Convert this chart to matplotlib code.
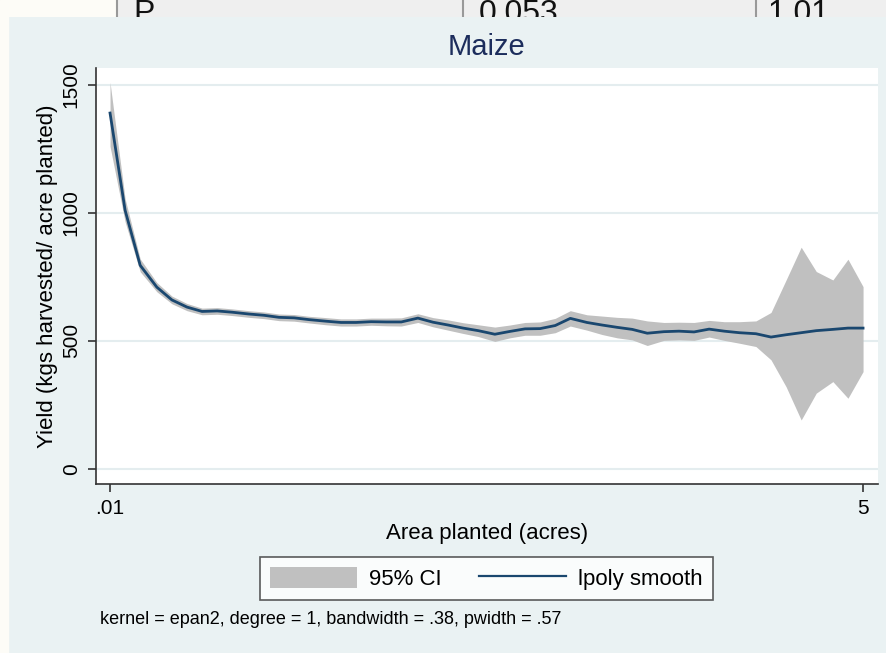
import matplotlib.pyplot as plt
from matplotlib.patches import Rectangle
from matplotlib.lines import Line2D
from matplotlib.patches import Patch

plt.rcParams['font.family'] = ['Liberation Sans', 'DejaVu Sans']

# lpoly grid (acres) and smoothed yield with 95% CI
area = [0.01, 0.11, 0.21, 0.32, 0.42, 0.52, 0.62, 0.72, 0.82, 0.93,
        1.03, 1.13, 1.23, 1.33, 1.44, 1.54, 1.64, 1.74, 1.84, 1.94,
        2.05, 2.15, 2.25, 2.35, 2.45, 2.56, 2.66, 2.76, 2.86, 2.96,
        3.06, 3.17, 3.27, 3.37, 3.47, 3.57, 3.68, 3.78, 3.88, 3.98,
        4.08, 4.18, 4.29, 4.39, 4.49, 4.59, 4.69, 4.80, 4.90, 5.00]
smooth = [1390, 1010, 795, 710, 660, 632, 615, 617, 612, 605,
          600, 592, 590, 583, 577, 572, 572, 575, 574, 574,
          589, 573, 562, 550, 540, 526, 537, 547, 548, 560,
          588, 572, 562, 553, 545, 530, 536, 538, 535, 546,
          538, 532, 528, 515, 524, 532, 540, 545, 550, 550]
ci_low = [1260, 965, 770, 692, 645, 618, 602, 604, 599, 592,
          587, 579, 577, 570, 563, 558, 558, 561, 559, 558,
          572, 555, 542, 529, 517, 498, 512, 522, 522, 532,
          558, 542, 525, 512, 504, 482, 502, 504, 502, 515,
          502, 491, 478, 426, 321, 191, 296, 341, 276, 380]
ci_high = [1510, 1055, 820, 728, 675, 646, 628, 630, 625, 618,
           613, 605, 603, 596, 591, 586, 586, 589, 589, 590,
           606, 591, 582, 571, 563, 554, 562, 572, 574, 588,
           618, 602, 597, 592, 589, 578, 572, 573, 572, 580,
           575, 575, 578, 611, 738, 866, 771, 738, 819, 712]

yticks = [0, 500, 1000, 1500]
xticks = [0.01, 5]
xticklabels = ['.01', '5']

W, H = 887, 653
bg = '#EAF2F3'
navy = '#1A476F'

fig = plt.figure(figsize=(W / 100, H / 100), dpi=100, facecolor=bg)

# bits of the screenshot around the graph
fig.patches.append(Rectangle((0, 0), 8 / W, 1, transform=fig.transFigure,
                             color='#FDFCF7', zorder=-1))
top = fig.add_axes([0, 1 - 17 / H, 1, 17 / H])
top.set_xlim(0, W)
top.set_ylim(17, 0)
top.axis('off')
top.add_patch(Rectangle((0, 0), 117, 17, color='#FDFCF7'))
top.add_patch(Rectangle((117, 0), W - 117, 17, color='#EFEFEF'))
for xv in [117, 463, 756]:
    top.plot([xv, xv], [0, 17], color='#999999', lw=1.5)
for xv, s in [(133, 'P'), (479, '0.053'), (768, '1.01')]:
    top.text(xv, -1, s, fontsize=23, va='top', ha='left', color='#111111',
             clip_on=True)

ax = fig.add_axes([96 / W, 1 - 484 / H, 782 / W, 416 / H])
ax.set_facecolor('white')
ax.fill_between(area, ci_low, ci_high, color='#C0C0C0', lw=0, zorder=2)
ax.plot(area, smooth, color=navy, lw=2, zorder=3)

ax.set_xlim(-0.083, 5.099)
ax.set_ylim(-59, 1566)
ax.set_yticks(yticks)
ax.set_yticklabels([str(v) for v in yticks], rotation=90, va='center')
ax.set_xticks(xticks)
ax.set_xticklabels(xticklabels)
ax.grid(axis='y', color='#E4EDEF', lw=1.5, zorder=1)
ax.set_axisbelow(True)
for s in ['top', 'right']:
    ax.spines[s].set_visible(False)
for s in ['left', 'bottom']:
    ax.spines[s].set_color('#333333')
    ax.spines[s].set_linewidth(1.2)
ax.tick_params(direction='out', length=6, width=1.2, color='#333333',
               labelsize=15, pad=5)

ax.set_ylabel('Yield (kgs harvested/ acre planted)', fontsize=16)
ax.yaxis.set_label_coords(-0.0614, 0.5)
ax.yaxis.label.set_va('center')
ax.set_xlabel('Area planted (acres)', fontsize=16)
ax.xaxis.set_label_coords(0.5, -0.118)
ax.xaxis.label.set_va('center')
ax.set_title('Maize', fontsize=21, color='#1C2D5C', y=1.0505, va='center', pad=0)

handles = [Patch(facecolor='#C0C0C0', edgecolor='none', label='95% CI'),
           Line2D([], [], color=navy, lw=1.6, label='lpoly smooth')]
leg = fig.legend(handles=handles, loc='center', ncol=2, fontsize=16,
                 bbox_to_anchor=(486.5 / W, 1 - 578.5 / H),
                 frameon=True, fancybox=False, handlelength=3.9,
                 handleheight=1.05, handletextpad=0.55, columnspacing=1.7,
                 borderpad=0.45)
leg.get_frame().set_edgecolor('#333333')
leg.get_frame().set_linewidth(1.2)

fig.text(100 / W, 1 - 620 / H,
         'kernel = epan2, degree = 1, bandwidth = .38, pwidth = .57',
         fontsize=13, va='center', ha='left')

fig.savefig('out.png', dpi=100, facecolor=bg)
